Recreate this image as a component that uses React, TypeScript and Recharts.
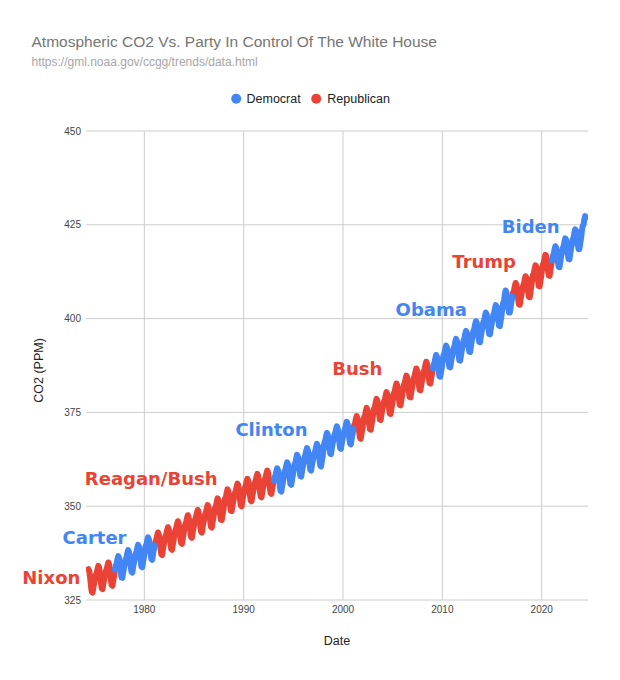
import React from "react";
import { LineChart, Line, XAxis, YAxis, CartesianGrid, ReferenceDot } from "recharts";

// Monthly CO2 (ppm), Mauna Loa
const co2_1974_1979 = [
  333.2, 332.7, 331.0, 328.8, 327.2, 327.0, 328.4, 329.6,
  330.8, 331.8, 332.2, 333.3, 334.1, 333.6, 331.9, 329.7, 328.1, 327.9, 329.3, 330.5,
  331.7, 332.7, 333.1, 334.2, 335.0, 334.5, 332.8, 330.6, 329.0, 328.8, 330.2, 331.4,
  333.1, 334.2, 334.6, 335.8, 336.7, 336.2, 334.7, 332.5, 331.0, 330.9, 332.3, 333.6,
  334.9, 335.9, 336.4, 337.5, 338.3, 337.8, 336.3, 334.1, 332.5, 332.3, 333.8, 335.0,
  336.3, 337.3, 337.8, 338.9, 339.7, 339.2, 337.7, 335.5, 333.9, 333.7, 335.2, 336.4,
];
const co2_1980s = [
  338.3, 339.3, 339.8, 340.9, 341.7, 341.2, 339.7, 337.5, 335.9, 335.7, 337.2, 338.4,
  339.6, 340.6, 341.1, 342.2, 343.0, 342.5, 341.0, 338.8, 337.2, 337.0, 338.5, 339.7,
  341.0, 342.0, 342.5, 343.6, 344.4, 343.9, 342.4, 340.2, 338.6, 338.4, 339.9, 341.1,
  342.6, 343.6, 344.1, 345.2, 346.0, 345.5, 344.0, 341.8, 340.2, 340.0, 341.5, 342.7,
  344.2, 345.2, 345.7, 346.8, 347.6, 347.1, 345.6, 343.4, 341.8, 341.6, 343.1, 344.3,
  345.6, 346.6, 347.1, 348.2, 349.0, 348.5, 347.0, 344.8, 343.2, 343.0, 344.5, 345.7,
  346.9, 347.9, 348.4, 349.5, 350.3, 349.8, 348.3, 346.1, 344.5, 344.3, 345.8, 347.0,
  348.5, 349.6, 350.0, 351.2, 352.1, 351.6, 350.1, 347.9, 346.4, 346.3, 347.7, 349.0,
  350.9, 352.0, 352.4, 353.6, 354.5, 354.0, 352.5, 350.3, 348.8, 348.7, 350.1, 351.4,
  352.6, 353.6, 354.1, 355.2, 356.0, 355.5, 354.0, 351.8, 350.2, 350.0, 351.5, 352.7,
];
const co2_1990s = [
  353.9, 354.9, 355.4, 356.5, 357.3, 356.8, 355.3, 353.1, 351.5, 351.3, 352.8, 354.0,
  355.3, 356.3, 356.7, 357.8, 358.6, 358.1, 356.4, 354.2, 352.6, 352.4, 353.8, 355.0,
  356.2, 357.2, 357.6, 358.7, 359.5, 359.0, 357.3, 355.1, 353.5, 353.3, 354.7, 355.9,
  356.8, 357.8, 358.2, 359.3, 360.1, 359.6, 357.9, 355.7, 354.1, 353.9, 355.3, 356.5,
  358.3, 359.3, 359.8, 360.9, 361.7, 361.2, 359.7, 357.5, 355.9, 355.7, 357.2, 358.4,
  360.1, 361.2, 361.6, 362.8, 363.7, 363.2, 361.7, 359.5, 358.0, 357.9, 359.3, 360.6,
  362.1, 363.1, 363.6, 364.7, 365.5, 365.0, 363.5, 361.3, 359.7, 359.5, 361.0, 362.2,
  363.2, 364.2, 364.7, 365.8, 366.6, 366.1, 364.6, 362.4, 360.8, 360.6, 362.1, 363.3,
  365.7, 366.9, 367.4, 368.6, 369.5, 369.1, 367.6, 365.5, 364.0, 363.9, 365.4, 366.8,
  367.9, 368.9, 369.4, 370.5, 371.3, 370.8, 369.3, 367.1, 365.5, 365.3, 366.8, 368.0,
];
const co2_2000s = [
  369.1, 370.1, 370.6, 371.7, 372.5, 372.0, 370.5, 368.3, 366.7, 366.5, 368.0, 369.2,
  370.6, 371.6, 372.1, 373.2, 374.0, 373.5, 372.0, 369.8, 368.2, 368.0, 369.5, 370.7,
  372.6, 373.7, 374.1, 375.3, 376.2, 375.7, 374.2, 372.0, 370.5, 370.4, 371.8, 373.1,
  374.8, 376.0, 376.5, 377.7, 378.6, 378.2, 376.7, 374.6, 373.1, 373.0, 374.5, 375.9,
  376.8, 377.9, 378.3, 379.5, 380.4, 379.9, 378.4, 376.2, 374.7, 374.6, 376.0, 377.3,
  379.1, 380.2, 380.6, 381.8, 382.7, 382.2, 380.7, 378.5, 377.0, 376.9, 378.3, 379.6,
  381.2, 382.3, 382.7, 383.9, 384.8, 384.3, 382.8, 380.6, 379.1, 379.0, 380.4, 381.7,
  383.1, 384.2, 384.6, 385.8, 386.7, 386.2, 384.7, 382.5, 381.0, 380.9, 382.3, 383.6,
  384.9, 386.0, 386.4, 387.6, 388.5, 388.0, 386.5, 384.3, 382.8, 382.7, 384.1, 385.4,
  386.7, 387.8, 388.2, 389.4, 390.3, 389.8, 388.3, 386.1, 384.6, 384.5, 385.9, 387.2,
];
const co2_2010s = [
  389.2, 390.3, 390.7, 391.9, 392.8, 392.3, 390.8, 388.6, 387.1, 387.0, 388.4, 389.7,
  391.0, 392.1, 392.5, 393.7, 394.6, 394.1, 392.6, 390.4, 388.9, 388.8, 390.2, 391.5,
  392.9, 394.1, 394.6, 395.8, 396.7, 396.3, 394.8, 392.7, 391.2, 391.1, 392.6, 394.0,
  395.5, 396.7, 397.2, 398.4, 399.3, 398.9, 397.4, 395.3, 393.8, 393.7, 395.2, 396.6,
  398.0, 399.1, 399.5, 400.7, 401.6, 401.1, 399.6, 397.4, 395.9, 395.8, 397.2, 398.5,
  399.8, 401.0, 401.5, 402.7, 403.6, 403.2, 401.7, 399.6, 398.1, 398.0, 399.5, 400.9,
  403.0, 404.2, 404.7, 406.5, 407.5, 406.9, 405.1, 403.1, 401.6, 401.6, 403.1, 404.5,
  405.9, 407.0, 407.4, 408.6, 409.5, 409.0, 407.5, 405.3, 403.8, 403.7, 405.1, 406.4,
  407.5, 408.7, 409.2, 410.4, 411.3, 410.9, 409.4, 407.3, 405.8, 405.7, 407.2, 408.6,
  410.4, 411.6, 412.1, 413.3, 414.2, 413.8, 412.3, 410.2, 408.7, 408.6, 410.1, 411.5,
];
const co2_2020s = [
  413.2, 414.4, 414.9, 416.1, 417.0, 416.6, 415.1, 413.0, 411.5, 411.4, 412.9, 414.3,
  415.5, 416.7, 417.2, 418.4, 419.3, 418.9, 417.4, 415.3, 413.8, 413.7, 415.2, 416.6,
  417.6, 418.8, 419.3, 420.5, 421.4, 421.0, 419.5, 417.4, 415.9, 415.8, 417.3, 418.7,
  419.9, 421.1, 421.6, 422.9, 423.8, 423.5, 422.0, 420.0, 418.5, 418.5, 420.0, 421.4,
  423.4, 424.6, 425.1, 426.4, 427.3, 427.0,
];

// Presidencies (start as decimal year) and party
const presidents = ["Nixon", "Carter", "Reagan/Bush", "Clinton", "Bush", "Obama", "Trump", "Biden"];
const termStarts = [1974.0, 1977.05, 1981.05, 1993.05, 2001.05, 2009.05, 2017.05, 2021.05];
const termParties = ["rep", "dem", "rep", "dem", "rep", "dem", "rep", "dem"];

// Annotation anchors (data coordinates: year, ppm)
const labelYears = [1970.64, 1974.99, 1980.69, 1992.8, 2001.44, 2008.88, 2014.21, 2018.89];
const labelPpm = [331.1, 341.7, 357.5, 370.4, 386.8, 402.5, 415.2, 424.5];

const yTicks = [325, 350, 375, 400, 425, 450];
const xTicks = [1980, 1990, 2000, 2010, 2020];

const BLUE = "#4285F4";
const RED = "#EA4335";
const SANS = "'Liberation Sans', Arial, Helvetica, sans-serif";
const BOLD = "'DejaVu Sans', Verdana, sans-serif";

const blocks = [
  { startYear: 1974, startMonth: 4, values: co2_1974_1979 },
  { startYear: 1980, startMonth: 0, values: co2_1980s },
  { startYear: 1990, startMonth: 0, values: co2_1990s },
  { startYear: 2000, startMonth: 0, values: co2_2000s },
  { startYear: 2010, startMonth: 0, values: co2_2010s },
  { startYear: 2020, startMonth: 0, values: co2_2020s },
];

function partyAt(t: number): string {
  let p = termParties[0];
  for (let i = 0; i < termStarts.length; i++) if (t >= termStarts[i]) p = termParties[i];
  return p;
}

type Row = { t: number; v: number; party: string; dem: number | null; rep: number | null };
const rows: Row[] = [];
blocks.forEach((b) => {
  b.values.forEach((v, i) => {
    const mm = b.startMonth + i;
    const year = b.startYear + Math.floor(mm / 12);
    const m = mm % 12;
    const t = year + (m + 0.5) / 12;
    const party = partyAt(t);
    rows.push({ t, v, party, dem: party === "dem" ? v : null, rep: party === "rep" ? v : null });
  });
});
for (let i = 1; i < rows.length; i++) {
  if (rows[i].party !== rows[i - 1].party) {
    (rows[i - 1] as any)[rows[i].party] = rows[i - 1].v;
  }
}

const PresLabel = (props: any) => {
  const { viewBox, text, color } = props;
  const cx = viewBox.x + (viewBox.width || 0) / 2;
  const cy = viewBox.y + (viewBox.height || 0) / 2;
  return (
    <text x={cx} y={cy} dy="0.36em" textAnchor="middle" fill={color} fontSize={18} fontWeight={700} fontFamily={BOLD}>
      {text}
    </text>
  );
};

const verticalGen = (props: any) => {
  const sc = props && props.xAxis && props.xAxis.scale;
  if (!sc) return [];
  return xTicks.map((v) => (typeof sc === "function" ? sc(v) : sc.map(v)));
};

export default function App() {
  return (
    <div style={{ position: "absolute", left: 0, top: 0, width: 620, height: 680, background: "#fff" }}>
      <LineChart width={620} height={680} data={rows} margin={{ top: 131, right: 32, bottom: 30, left: 26 }}>
        <CartesianGrid stroke="#cccccc" strokeWidth={1} verticalCoordinatesGenerator={verticalGen} />
        <XAxis
          dataKey="t"
          type="number"
          domain={[1974.13, 2024.66]}
          allowDataOverflow
          ticks={xTicks}
          tickLine={false}
          axisLine={false}
          tickSize={4}
          tickMargin={2}
          height={50}
          tick={{ fontSize: 10, fill: "#444", fontFamily: SANS }}
        />
        <YAxis
          type="number"
          domain={[325, 450]}
          ticks={yTicks}
          tickLine={false}
          axisLine={false}
          tickSize={3}
          tickMargin={2}
          width={60}
          tick={{ fontSize: 10, fill: "#444", fontFamily: SANS }}
        />
        <Line
          dataKey="rep"
          stroke={RED}
          strokeWidth={6}
          dot={false}
          activeDot={false}
          connectNulls={false}
          isAnimationActive={false}
          strokeLinejoin="round"
          strokeLinecap="round"
          type="linear"
        />
        <Line
          dataKey="dem"
          stroke={BLUE}
          strokeWidth={6}
          dot={false}
          activeDot={false}
          connectNulls={false}
          isAnimationActive={false}
          strokeLinejoin="round"
          strokeLinecap="round"
          type="linear"
        />
        {presidents.map((name, i) => (
          <ReferenceDot
            key={name}
            x={labelYears[i]}
            y={labelPpm[i]}
            r={0}
            fill="none"
            stroke="none"
            ifOverflow="visible"
            label={<PresLabel text={name} color={termParties[i] === "dem" ? BLUE : RED} />}
          />
        ))}
      </LineChart>
      <svg width={620} height={680} style={{ position: "absolute", left: 0, top: 0, pointerEvents: "none" }}>
        <text x={31.5} y={46.5} fontSize={15.5} fill="#757575" fontFamily={SANS}>
          Atmospheric CO2 Vs. Party In Control Of The White House
        </text>
        <text x={31.5} y={66} fontSize={12} fill="#a6a6a6" fontFamily={SANS}>
          https://gml.noaa.gov/ccgg/trends/data.html
        </text>
        <circle cx={236.2} cy={98.7} r={5} fill={BLUE} />
        <text x={246.5} y={103.1} fontSize={12.5} fill="#222" fontFamily={SANS}>
          Democrat
        </text>
        <circle cx={316.2} cy={98.7} r={5} fill={RED} />
        <text x={327.3} y={103.1} fontSize={12.5} fill="#222" fontFamily={SANS}>
          Republican
        </text>
        <text
          x={39}
          y={370.5}
          dy="0.355em"
          transform="rotate(-90 39 370.5)"
          textAnchor="middle"
          fontSize={12.5}
          fill="#222"
          fontFamily={SANS}
        >
          CO2 (PPM)
        </text>
        <text x={337} y={645.4} textAnchor="middle" fontSize={12.5} fill="#222" fontFamily={SANS}>
          Date
        </text>
      </svg>
    </div>
  );
}
